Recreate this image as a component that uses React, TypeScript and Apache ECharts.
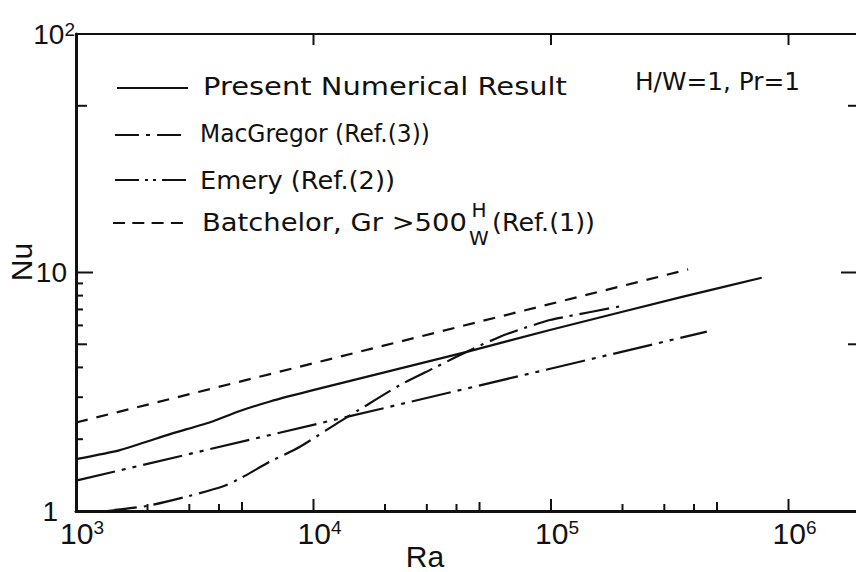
import React, { useEffect, useRef } from 'react';
import * as echarts from 'echarts';

// ---- axis ranges ----
const RA_MIN = 1000;
const RA_MAX = 2e6;
const NU_MIN = 1;
const NU_MAX = 100;

// ---- series values ----
const presentRa = [1000, 1530, 2490, 3780, 4760, 6560, 10450, 44200, 99000, 360000, 771000];
const presentNu = [1.65, 1.8, 2.1, 2.38, 2.6, 2.88, 3.25, 4.65, 5.74, 7.92, 9.51];

const macgregorRa = [1350, 1990, 2920, 4170, 4910, 6560, 8770, 12900, 15500, 23100, 31900, 44200, 61000, 76400, 99000, 116000, 199000];
const macgregorNu = [1.0, 1.05, 1.148, 1.27, 1.37, 1.61, 1.86, 2.37, 2.65, 3.37, 3.96, 4.65, 5.38, 5.83, 6.32, 6.53, 7.24];

const emeryRa = [1000, 13800, 453000];
const emeryNu = [1.34, 2.48, 5.65];

const batchelorRa = [1000, 8770, 378000];
const batchelorNu = [2.35, 4.03, 10.3];

// ---- tick values ----
const xTicksBottom = [2000, 3000, 4000, 5000, 10000, 20000, 30000, 40000, 50000, 100000, 200000, 300000, 400000, 500000, 1000000];
const xTicksTop = [10000, 100000, 1000000];
const yTicksLeft = [2, 3, 4, 5, 6, 7, 8, 9, 10, 50];
const yTicksRight = [5, 10, 50];

// ---- texts ----
const legendLabels = ['Present Numerical Result', 'MacGregor (Ref.(3))', 'Emery (Ref.(2))', 'Batchelor, Gr >500'];
const batchelorFracTop = 'H';
const batchelorFracBottom = 'W';
const batchelorTail = '(Ref.(1))';
const conditionLabel = 'H/W=1, Pr=1';
const xName = 'Ra';
const yName = 'Nu';

const INK = '#111';
const TEXT_FONT = '"DejaVu Sans", sans-serif';
const NUM_FONT = '"Liberation Sans", Arial, sans-serif';

const DASH_MAC = [30, 7, 3, 7];
const DASH_EMERY = [40, 7, 4, 7, 4, 7];
const DASH_BAT = [12, 9];

function measure(text: string, size: number): number {
  const ctx = document.createElement('canvas').getContext('2d');
  if (!ctx) return text.length * size * 0.6;
  ctx.font = `${size}px "DejaVu Sans"`;
  return ctx.measureText(text).width;
}

function stretchedText(text: string, x: number, y: number, width: number, size = 24): any {
  const w = measure(text, size);
  return {
    type: 'text',
    x,
    y,
    scaleX: width / w,
    silent: true,
    style: { text, fontSize: size, fontFamily: TEXT_FONT, fill: INK, align: 'left', verticalAlign: 'middle' },
  };
}

function sample(x1: number, x2: number, y: number, dash: number[] | null): any {
  return {
    type: 'line',
    silent: true,
    shape: { x1, y1: y, x2, y2: y },
    style: { stroke: INK, lineWidth: 2.2, lineDash: dash || undefined },
  };
}

function mantissa(v: number): number {
  const e = Math.floor(Math.log10(v) + 1e-9);
  return Math.round(v / Math.pow(10, e));
}

function tickSeries(data: number[][], dir: 'bottom' | 'top' | 'left' | 'right', lenOf: (v: number) => number): any {
  return {
    type: 'custom',
    silent: true,
    clip: false,
    z: 5,
    data,
    renderItem: (_params: any, api: any) => {
      const xv = api.value(0);
      const yv = api.value(1);
      const p = api.coord([xv, yv]);
      const v = dir === 'bottom' || dir === 'top' ? xv : yv;
      const L = lenOf(v);
      let x2 = p[0];
      let y2 = p[1];
      if (dir === 'bottom') y2 -= L;
      if (dir === 'top') y2 += L;
      if (dir === 'left') x2 += L;
      if (dir === 'right') x2 -= L;
      return {
        type: 'line',
        shape: { x1: p[0], y1: p[1], x2, y2 },
        style: { stroke: INK, lineWidth: 2 },
      };
    },
  };
}

function lineSeries(name: string, xs: number[], ys: number[], dash: any, smooth: number | boolean): any {
  return {
    name,
    type: 'line',
    data: xs.map((x, i) => [x, ys[i]]),
    symbol: 'none',
    showSymbol: false,
    smooth,
    silent: true,
    lineStyle: { color: INK, width: 2.2, type: dash },
  };
}

function isPow10(v: number): number | null {
  const l = Math.log10(v);
  const r = Math.round(l);
  return Math.abs(l - r) < 1e-6 ? r : null;
}

export default function App() {
  const ref = useRef<HTMLDivElement>(null);

  useEffect(() => {
    if (!ref.current) return;
    const chart = echarts.init(ref.current, null, { renderer: 'svg' });

    const option: any = {
      animation: false,
      backgroundColor: '#fff',
      grid: { left: 76, top: 34, width: 784, height: 477, containLabel: false, outerBoundsMode: 'none' },
      xAxis: [
        {
          type: 'log',
          logBase: 10,
          min: RA_MIN,
          max: RA_MAX,
          position: 'bottom',
          axisLine: { show: true, onZero: false, lineStyle: { color: INK, width: 3 } },
          axisTick: { show: false },
          splitLine: { show: false },
          axisLabel: {
            margin: 7,
            color: INK,
            formatter: (v: number) => {
              const p = isPow10(v);
              if (p === null) return '';
              return `{p| }{b|10}{s|${p}}`;
            },
            rich: {
              p: { width: 12, fontSize: 18 },
              b: { fontSize: 30, lineHeight: 30, fontFamily: NUM_FONT, color: INK },
              s: { fontSize: 19, lineHeight: 19, fontFamily: NUM_FONT, color: INK, verticalAlign: 'top' },
            },
          },
          name: xName,
          nameLocation: 'middle',
          nameMoveOverlap: false,
          nameGap: 30,
          nameTextStyle: { fontSize: 30, fontFamily: NUM_FONT, color: INK, padding: [0, 86, 0, 0] },
        },
        {
          type: 'log',
          logBase: 10,
          min: RA_MIN,
          max: RA_MAX,
          position: 'top',
          axisLine: { show: true, onZero: false, lineStyle: { color: INK, width: 2 } },
          axisTick: { show: false },
          axisLabel: { show: false },
          splitLine: { show: false },
        },
      ],
      yAxis: [
        {
          type: 'log',
          logBase: 10,
          min: NU_MIN,
          max: NU_MAX,
          position: 'left',
          axisLine: { show: true, onZero: false, lineStyle: { color: INK, width: 3 } },
          axisTick: { show: false },
          splitLine: { show: false },
          axisLabel: {
            margin: 1,
            color: INK,
            formatter: (v: number) => {
              const p = isPow10(v);
              if (p === null) return '';
              if (p === 0) return '{b|1}{q| }';
              if (p === 1) return '{b|10}{r| }';
              return `{b|10}{s|${p}}`;
            },
            rich: {
              q: { width: 17, fontSize: 18 },
              r: { width: 8, fontSize: 18 },
              b: { fontSize: 28, lineHeight: 28, fontFamily: NUM_FONT, color: INK },
              s: { fontSize: 19, lineHeight: 19, fontFamily: NUM_FONT, color: INK, verticalAlign: 'top' },
            },
          },
          name: yName,
          nameLocation: 'middle',
          nameMoveOverlap: false,
          nameRotate: 90,
          nameGap: 40,
          nameTextStyle: { fontSize: 30, fontFamily: NUM_FONT, color: INK, padding: [0, 0, 0, 21] },
        },
        {
          type: 'log',
          logBase: 10,
          min: NU_MIN,
          max: NU_MAX,
          position: 'right',
          axisLine: { show: true, onZero: false, lineStyle: { color: INK, width: 2 } },
          axisTick: { show: false },
          axisLabel: { show: false },
          splitLine: { show: false },
        },
      ],
      series: [
        lineSeries(legendLabels[0], presentRa, presentNu, 'solid', 0.2),
        lineSeries(legendLabels[1], macgregorRa, macgregorNu, DASH_MAC, 0.25),
        lineSeries(legendLabels[2], emeryRa, emeryNu, DASH_EMERY, false),
        lineSeries(legendLabels[3], batchelorRa, batchelorNu, DASH_BAT, false),
        tickSeries(xTicksBottom.map((v) => [v, NU_MIN]), 'bottom', (v) => {
          const m = mantissa(v);
          return m === 1 ? 12 : m === 5 ? 9 : 7;
        }),
        tickSeries(xTicksTop.map((v) => [v, NU_MAX]), 'top', () => 11),
        tickSeries(yTicksLeft.map((v) => [RA_MIN, v]), 'left', (v) => {
          if (v === 10) return 17;
          const m = mantissa(v);
          return m === 5 ? 11 : 7;
        }),
        tickSeries(yTicksRight.map((v) => [RA_MAX, v]), 'right', (v) => (v === 10 ? 19 : 12)),
      ],
      graphic: [
        sample(117, 188, 88, null),
        stretchedText(legendLabels[0], 203, 86, 364),
        sample(115, 186, 135, [24, 7, 4, 7]),
        stretchedText(legendLabels[1], 200, 134, 230),
        sample(115, 190, 180, [24, 6, 3, 5, 3, 6]),
        stretchedText(legendLabels[2], 200, 181, 195),
        sample(113, 183, 223, [12, 7.3]),
        stretchedText(legendLabels[3], 202, 223, 265),
        {
          type: 'text',
          x: 479,
          y: 210,
          silent: true,
          style: { text: batchelorFracTop, fontSize: 20, fontFamily: TEXT_FONT, fill: INK, align: 'center', verticalAlign: 'middle' },
        },
        {
          type: 'text',
          x: 479,
          y: 238,
          silent: true,
          style: { text: batchelorFracBottom, fontSize: 20, fontFamily: TEXT_FONT, fill: INK, align: 'center', verticalAlign: 'middle' },
        },
        stretchedText(batchelorTail, 492, 223, 103),
        stretchedText(conditionLabel, 635, 82, 165),
      ],
    };

    chart.setOption(option);
    return () => {
      chart.dispose();
    };
  }, []);

  return (
    <div
      ref={ref}
      style={{ position: 'fixed', left: 0, top: 0, width: 856, height: 572, background: '#fff' }}
    />
  );
}
